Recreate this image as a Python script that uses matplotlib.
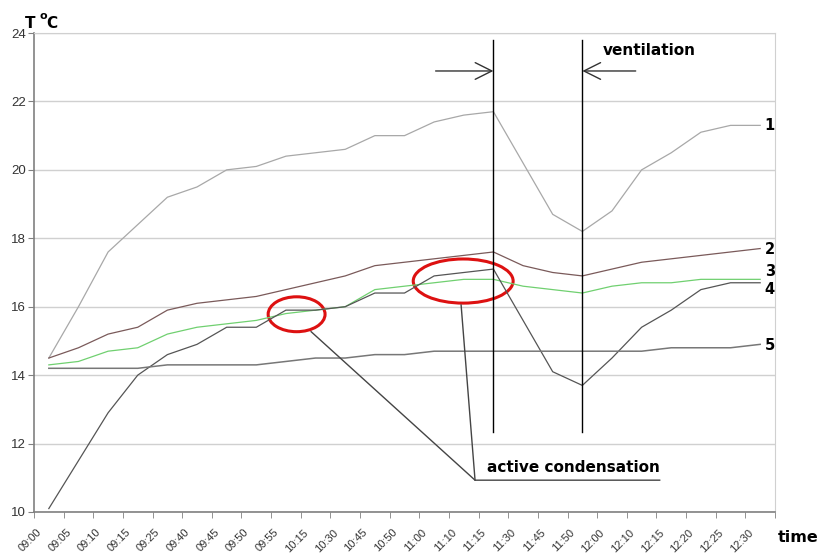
import numpy as np
import matplotlib
matplotlib.use("Agg")
import matplotlib.pyplot as plt
from matplotlib.patches import Ellipse

times = ["09:00", "09:05", "09:10", "09:15", "09:25", "09:40", "09:45", "09:50", "09:55",
         "10:15", "10:30", "10:45", "10:50", "11:00", "11:10", "11:15", "11:30", "11:45",
         "11:50", "12:00", "12:10", "12:15", "12:20", "12:25", "12:30"]

t1 = [14.5, 16.0, 17.6, 18.4, 19.2, 19.5, 20.0, 20.1, 20.4, 20.5, 20.6, 21.0, 21.0,
      21.4, 21.6, 21.7, 20.2, 18.7, 18.2, 18.8, 20.0, 20.5, 21.1, 21.3, 21.3]
t2 = [14.5, 14.8, 15.2, 15.4, 15.9, 16.1, 16.2, 16.3, 16.5, 16.7, 16.9, 17.2, 17.3,
      17.4, 17.5, 17.6, 17.2, 17.0, 16.9, 17.1, 17.3, 17.4, 17.5, 17.6, 17.7]
t3 = [14.3, 14.4, 14.7, 14.8, 15.2, 15.4, 15.5, 15.6, 15.8, 15.9, 16.0, 16.5, 16.6,
      16.7, 16.8, 16.8, 16.6, 16.5, 16.4, 16.6, 16.7, 16.7, 16.8, 16.8, 16.8]
t4 = [10.1, 11.5, 12.9, 14.0, 14.6, 14.9, 15.4, 15.4, 15.9, 15.9, 16.0, 16.4, 16.4,
      16.9, 17.0, 17.1, 15.6, 14.1, 13.7, 14.5, 15.4, 15.9, 16.5, 16.7, 16.7]
t5 = [14.2, 14.2, 14.2, 14.2, 14.3, 14.3, 14.3, 14.3, 14.4, 14.5, 14.5, 14.6, 14.6,
      14.7, 14.7, 14.7, 14.7, 14.7, 14.7, 14.7, 14.7, 14.8, 14.8, 14.8, 14.9]

plt.rcParams['font.family'] = ['Liberation Sans', 'DejaVu Sans']
bold = dict(fontweight='bold', family='DejaVu Sans')

fig = plt.figure(figsize=(8.19, 5.55), dpi=100)
ax = fig.add_axes([34/819, 1-512/555, (775-34)/819, (512-33)/555])

x = np.arange(len(times))
ax.plot(x, t1, color='#a8a8a8', lw=0.9)
ax.plot(x, t2, color='#7a5a5a', lw=0.9)
ax.plot(x, t3, color='#70d070', lw=0.9)
ax.plot(x, t4, color='#555555', lw=0.9)
ax.plot(x, t5, color='#777777', lw=1.1)

ax.set_xlim(-0.5, len(times)-0.5)
ax.set_ylim(10, 24)
ax.set_yticks(np.arange(10, 25, 2))
ax.yaxis.grid(True, color='#d0d0d0', lw=1)
ax.set_axisbelow(True)
ax.tick_params(axis='y', length=4, color='#808080', labelsize=9.5, labelcolor='#333333', pad=2)

# rotated labels sit a bit left of the category centre, like excel does
ax.set_xticks(x - 0.42)
ax.set_xticklabels(times, rotation=45, ha='right', rotation_mode='anchor',
                   fontsize=8, color='#333333')
ax.set_xticks(np.arange(-0.5, len(times), 1), minor=True)
ax.tick_params(axis='x', which='major', length=0, pad=11)
ax.tick_params(axis='x', which='minor', length=4, color='#808080')

for s in ['left', 'bottom']:
    ax.spines[s].set_color('#808080')
    ax.spines[s].set_linewidth(1.2)
ax.spines['top'].set_color('#d0d0d0')
ax.spines['right'].set_color('#d0d0d0')

# line numbers
for lab, yv in zip(["1", "2", "3", "4", "5"], [21.31, 17.68, 17.04, 16.51, 14.88]):
    ax.text(24.15, yv, lab, fontsize=10.5, va='center', ha='left', clip_on=False, **bold)

# ventilation markers
for xv in [15, 18]:
    ax.plot([xv, xv], [12.33, 23.8], color='black', lw=1)
head = '->,head_length=0.6,head_width=0.3'
ax.annotate('', xy=(15, 22.89), xytext=(13.05, 22.89),
            arrowprops=dict(arrowstyle=head, color='#333333', lw=1, mutation_scale=20,
                            shrinkA=0, shrinkB=0))
ax.annotate('', xy=(18, 22.89), xytext=(19.8, 22.89),
            arrowprops=dict(arrowstyle=head, color='#333333', lw=1, mutation_scale=20,
                            shrinkA=0, shrinkB=0))
ax.text(18.7, 23.5, 'ventilation', fontsize=11, va='center', ha='left', **bold)

# condensation markers
ax.add_patch(Ellipse((8.36, 15.78), 1.92, 1.02, fill=False, color='#dd1111', lw=2.2))
ax.add_patch(Ellipse((13.98, 16.75), 3.37, 1.29, fill=False, color='#dd1111', lw=2.2))
ax.plot([8.85, 14.38, 20.61], [15.27, 10.93, 10.93], color='#444444', lw=1)
ax.plot([13.91, 14.38], [16.05, 10.93], color='#444444', lw=1)
ax.text(14.8, 11.3, 'active condensation', fontsize=11, va='center', ha='left', **bold)

fig.text(25/819, 1-23/555, 'T', fontsize=11, va='center', ha='left', **bold)
fig.text(39/819, 1-16/555, 'o', fontsize=8, va='center', ha='left', **bold)
fig.text(46/819, 1-23/555, 'C', fontsize=11, va='center', ha='left', **bold)
fig.text(778/819, 1-538/555, 'time', fontsize=11.5, va='center', ha='left', **bold)

fig.savefig('out.png', dpi=100)
